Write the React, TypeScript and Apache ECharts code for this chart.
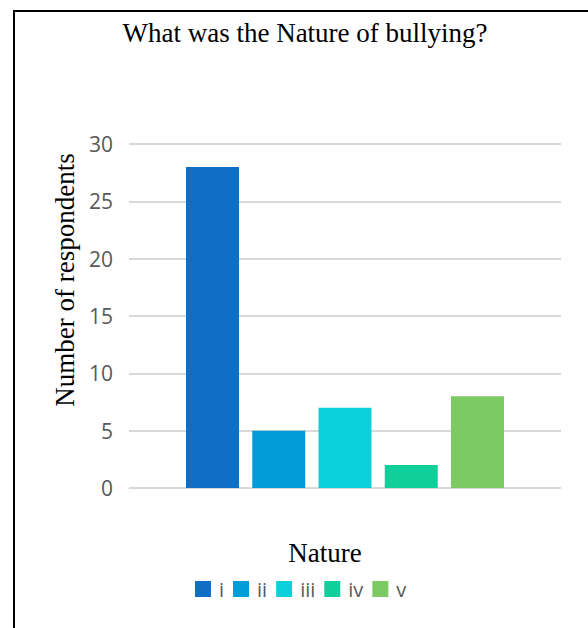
import React, { useEffect, useRef } from "react";
import * as echarts from "echarts";

const categories = ["Nature"];
const seriesNames = ["i", "ii", "iii", "iv", "v"];
const seriesValues = [28, 5, 7, 2, 8];
const seriesColors = ["#0F6FC6", "#009DD9", "#0BD0D9", "#10CF9B", "#7CCA62"];
const yTicks = [0, 5, 10, 15, 20, 25, 30];
const titleText = "What was the Nature of bullying?";
const yAxisTitle = "Number of respondents";
const xAxisTitle = "Nature";

export default function App() {
  const ref = useRef<HTMLDivElement>(null);
  useEffect(() => {
    if (!ref.current) return;
    const chart = echarts.init(ref.current, undefined, { renderer: "svg" });
    const serif = "27px 'Liberation Serif', 'Times New Roman', serif";
    chart.setOption({
      animation: false,
      backgroundColor: "#ffffff",
      graphic: [
        {
          type: "rect",
          shape: { x: 14, y: 11, width: 620, height: 660 },
          style: { fill: "none", stroke: "#000", lineWidth: 2 },
          silent: true,
        },
        {
          type: "text",
          x: 305,
          y: 33,
          style: { text: titleText, font: serif, fill: "#000", textAlign: "center", textVerticalAlign: "middle" },
        },
        {
          type: "text",
          x: 65,
          y: 280,
          rotation: Math.PI / 2,
          style: { text: yAxisTitle, font: serif, fill: "#000", textAlign: "center", textVerticalAlign: "middle" },
        },
        {
          type: "text",
          x: 325,
          y: 553,
          style: { text: xAxisTitle, font: serif, fill: "#000", textAlign: "center", textVerticalAlign: "middle" },
        },
      ],
      legend: {
        data: seriesNames,
        left: 190,
        top: 574,
        itemWidth: 16,
        itemHeight: 16,
        itemGap: 9,
        icon: "rect",
        textStyle: { fontFamily: "Open Sans", fontSize: 20, color: "#595959", padding: [0, 0, 0, 3] },
      },
      grid: { left: 129, right: 27, top: 144, bottom: 140 },
      xAxis: {
        type: "category",
        data: categories,
        axisLine: { lineStyle: { color: "#d9d9d9", width: 1 } },
        axisTick: { show: false },
        axisLabel: { show: false },
      },
      yAxis: {
        type: "value",
        min: yTicks[0],
        max: yTicks[yTicks.length - 1],
        interval: 5,
        axisLine: { show: false },
        axisTick: { show: false },
        axisLabel: { fontFamily: "Open Sans", fontSize: 21, color: "#595959", margin: 16 },
        splitLine: { lineStyle: { color: "#d9d9d9", width: 2 } },
      },
      series: seriesNames.map((n, i) => ({
        name: n,
        type: "bar",
        data: [seriesValues[i]],
        barWidth: 53,
        barGap: "25%",
        itemStyle: { color: seriesColors[i] },
      })),
    });
    return () => chart.dispose();
  }, []);
  return (
    <div
      ref={ref}
      style={{ position: "fixed", left: 0, top: 0, width: 588, height: 628 }}
    />
  );
}
